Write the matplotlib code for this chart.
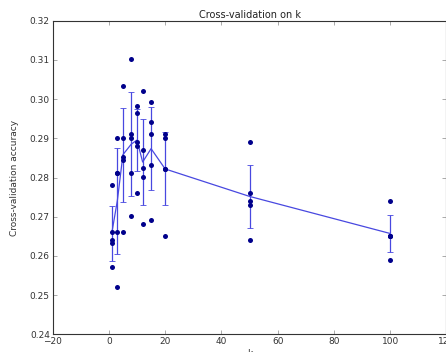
import matplotlib
matplotlib.use('Agg')
import matplotlib.pyplot as plt
import numpy as np

# k values tried and the 5 fold scores for each
k_values = [1, 3, 5, 8, 10, 12, 15, 20, 50, 100]
fold_scores = [
    [0.2782, 0.2660, 0.2641, 0.2632, 0.2571],
    [0.2902, 0.2811, 0.2811, 0.2660, 0.2520],
    [0.3033, 0.2902, 0.2853, 0.2845, 0.2660],
    [0.3102, 0.2911, 0.2902, 0.2811, 0.2702],
    [0.2982, 0.2964, 0.2891, 0.2881, 0.2760],
    [0.3021, 0.2870, 0.2825, 0.2801, 0.2681],
    [0.2992, 0.2942, 0.2912, 0.2832, 0.2691],
    [0.2912, 0.2902, 0.2822, 0.2822, 0.2652],
    [0.2890, 0.2760, 0.2740, 0.2730, 0.2640],
    [0.2741, 0.2652, 0.2652, 0.2652, 0.2590],
]
x_ticks = [-20, 0, 20, 40, 60, 80, 100, 120]
y_ticks = [0.24, 0.25, 0.26, 0.27, 0.28, 0.29, 0.30, 0.31, 0.32]

scores = np.array(fold_scores)
means = scores.mean(axis=1)
stds = scores.std(axis=1)

fig = plt.figure(figsize=(4.46, 3.52), dpi=100)
ax = fig.add_axes([0.118, 0.050, 0.883, 0.891])

# every fold score as a dot
for k, row in zip(k_values, fold_scores):
    ax.plot([k] * len(row), row, 'o', color='#00008b', markersize=3.6,
            markeredgewidth=0, zorder=3)

# mean line with std error bars
ax.errorbar(k_values, means, yerr=stds, fmt='-', color='#4848e0', lw=0.9,
            elinewidth=0.9, capsize=2.2, capthick=0.6, zorder=2)

ax.set_xlim(-20, 120)
ax.set_ylim(0.24, 0.32)
ax.set_xticks(x_ticks)
ax.set_yticks(y_ticks)
ax.set_yticklabels(['%.2f' % v for v in y_ticks])
ax.tick_params(direction='in', top=True, right=True, length=3, width=0.5,
               labelsize=6.5, labelcolor='#333333', color='#888888', pad=2)
for s in ax.spines.values():
    s.set_linewidth(0.8)
    s.set_color('#333333')

ax.set_title('Cross-validation on k', fontsize=7, pad=2, color='#222222')
ax.set_ylabel('Cross-validation accuracy', fontsize=6.5, color='#333333', labelpad=8)
ax.set_xlabel('k', fontsize=6.5, color='#333333', labelpad=2)

fig.savefig('out.png', dpi=100, facecolor='white')
